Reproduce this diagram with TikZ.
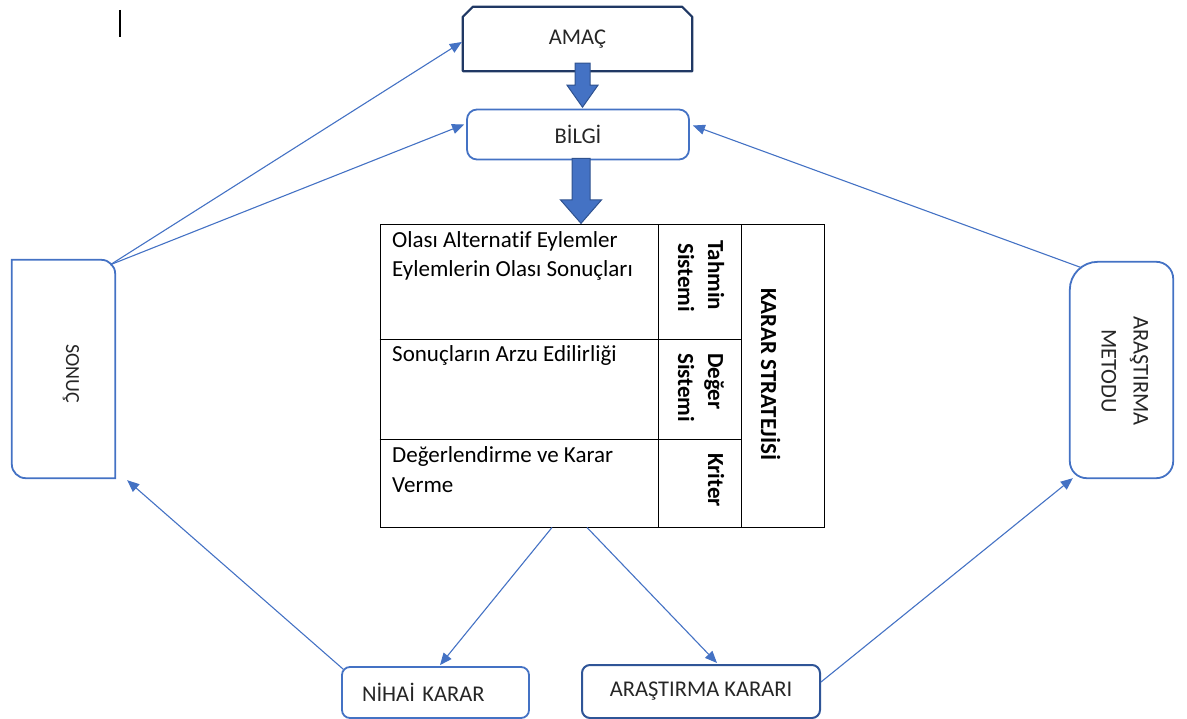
\documentclass[tikz,border=0pt]{standalone}
\usepackage{fontspec}
\setmainfont{Carlito}[Ligatures=NoCommon]
\usepackage{graphicx}
\usetikzlibrary{arrows.meta,calc}
\definecolor{officeblue}{HTML}{4472C4}
\definecolor{navyline}{HTML}{203864}
\definecolor{midblue}{HTML}{2F5597}
\definecolor{arrowedge}{HTML}{2F528F}
\definecolor{txt}{HTML}{262626}

\begin{document}
\begin{tikzpicture}[x=1pt,y=-1pt,
  link/.style={draw=officeblue, line width=1.1pt, -{Triangle[length=12pt,width=10pt]}},
  boxfont/.style={font=\fontsize{22.5}{27}\selectfont, text=txt},
  cellfont/.style={font=\fontsize{23}{28}\selectfont, inner sep=0pt, anchor=base west, text=black},
  sidefont/.style={font=\bfseries\fontsize{23}{28}\selectfont, inner sep=0pt, anchor=base west, rotate=-90, text=black},
  blockarr/.style={fill=officeblue, draw=arrowedge, line width=1pt, line join=miter},
  outline/.style={draw=officeblue, line width=1.8pt},
  tblline/.style={draw=black, line width=1pt}
]
\useasboundingbox (0,0) rectangle (1187,719);

% small text cursor mark
\draw[black, line width=1.5pt] (120,10) -- (120,37);

% goal box with cut top corners
\node[boxfont, minimum width=229pt, minimum height=64pt, inner sep=0pt] (amac) at (577.5,39) {AMAÇ};
\draw[navyline, line width=2.2pt, line join=round]
  ($(amac.north west)+(10,0)$) -- ($(amac.north east)+(-10,0)$) -- ($(amac.north east)+(0,10)$)
  -- (amac.south east) -- (amac.south west) -- ($(amac.north west)+(0,10)$) -- cycle;

% information box
\node[boxfont, outline, rounded corners=10pt, minimum width=222pt, minimum height=50pt, inner sep=0pt] (bilgi) at (578,134.5) {BİLGİ};

% block arrows
\coordinate (ba1) at ($(amac.south)+(5,-8)$);
\draw[blockarr] (ba1) ++(-7.5,0) -- ++(15,0) -- ++(0,22) -- ++(8,0) -- ++(-15.5,22) -- ++(-15.5,-22) -- ++(8,0) -- cycle;
\coordinate (ba2) at ($(bilgi.south)+(3,-2)$);
\draw[blockarr] (ba2) ++(-9,0) -- ++(18,0) -- ++(0,41.5) -- ++(11.5,0) -- ++(-20.5,23.5) -- ++(-20.5,-23.5) -- ++(11.5,0) -- cycle;

% decision strategy table
\node[tblline, minimum width=444pt, minimum height=302pt, inner sep=0pt] (tbl) at (602,376) {};
\draw[tblline] ($(tbl.north west)+(279,0)$) -- ($(tbl.south west)+(279,0)$);
\draw[tblline] ($(tbl.north west)+(362,0)$) -- ($(tbl.south west)+(362,0)$);
\draw[tblline] ($(tbl.north west)+(0,115)$) -- ($(tbl.north west)+(362,115)$);
\draw[tblline] ($(tbl.north west)+(0,215)$) -- ($(tbl.north west)+(362,215)$);

\node[cellfont] (t1) at (392,248) {Olası Alternatif Eylemler};
\node[cellfont] (t2) at (392,277) {Eylemlerin Olası Sonuçları};
\node[cellfont] (t3) at (392,362) {Sonuçların Arzu Edilirliği};
\node[cellfont] (t4) at (392,463) {Değerlendirme ve Karar};
\node[cellfont] (t5) at (392,492) {Verme};

\node[sidefont] (s1) at (708,240) {Tahmin};
\node[sidefont] (s2) at (678,243) {Sistemi};
\node[sidefont] (s3) at (708,353) {Değer};
\node[sidefont] (s4) at (678,353) {Sistemi};
\node[sidefont] (s5) at (708,453) {Kriter};
\node[sidefont] (s6) at (761,288) {KARAR STRATEJİSİ};

% result box (round diagonal corners)
\node[minimum width=103pt, minimum height=218pt, inner sep=0pt] (sonuc) at (63.5,369) {};
\draw[outline]
  (sonuc.north west) -- ($(sonuc.north east)+(-14,0)$)
  .. controls ($(sonuc.north east)+(-6.3,0)$) and ($(sonuc.north east)+(0,6.3)$) .. ($(sonuc.north east)+(0,14)$)
  -- (sonuc.south east) -- ($(sonuc.south west)+(14,0)$)
  .. controls ($(sonuc.south west)+(6.3,0)$) and ($(sonuc.south west)+(0,-6.3)$) .. ($(sonuc.south west)+(0,-14)$)
  -- cycle;
\node[boxfont, font=\fontsize{20}{24}\selectfont, inner sep=0pt] (sonuctxt) at (71,374) {\rotatebox{-90}{SONUÇ}};

% research method box
\node[minimum width=103pt, minimum height=216pt, inner sep=0pt] (metod) at (1121.5,370) {};
\draw[outline]
  ($(metod.north west)+(28,0)$) -- ($(metod.north east)+(-17,0)$)
  .. controls ($(metod.north east)+(-7.6,0)$) and ($(metod.north east)+(0,7.6)$) .. ($(metod.north east)+(0,17)$)
  -- ($(metod.south east)+(0,-17)$)
  .. controls ($(metod.south east)+(0,-7.6)$) and ($(metod.south east)+(-7.6,0)$) .. ($(metod.south east)+(-17,0)$)
  -- ($(metod.south west)+(17,0)$)
  .. controls ($(metod.south west)+(7.6,0)$) and ($(metod.south west)+(0,-7.6)$) .. ($(metod.south west)+(0,-17)$)
  -- ($(metod.north west)+(0,28)$)
  .. controls ($(metod.north west)+(0,12.6)$) and ($(metod.north west)+(12.6,0)$) .. ($(metod.north west)+(28,0)$)
  -- cycle;
\node[boxfont, font=\fontsize{22.5}{32}\selectfont, inner sep=0pt] (metodtxt) at (1124,371)
  {\rotatebox{-90}{\begin{tabular}{@{}c@{}}ARAŞTIRMA\\METODU\end{tabular}}};

% decision boxes
\node[boxfont, outline, rounded corners=8pt, minimum width=187pt, minimum height=51pt,
      text width=147pt, inner xsep=20pt, inner ysep=0pt, align=left] (nihai) at (435.5,692.5) {NİHAİ KARAR};
\node[boxfont, draw=midblue, line width=2pt, rounded corners=8pt, minimum width=238pt, minimum height=53pt,
      inner sep=0pt] (arask) at (701,691.5) {ARAŞTIRMA KARARI};

% connectors
\draw[link] ($(sonuc.north east)+(-5,5)$) -- ($(amac.west)+(-1,3)$);
\draw[link] ($(sonuc.north east)+(-5,5)$) -- ($(bilgi.west)+(-2,-10)$);
\draw[link] ($(metod.north west)+(12,6)$) -- ($(bilgi.east)+(3,-9)$);
\draw[link] ($(tbl.south)+(-50,0)$) -- ($(nihai.north)+(4.5,-1)$);
\draw[link] ($(tbl.south)+(-15,0)$) -- ($(arask.north)+(16,-1)$);
\draw[link] ($(nihai.north west)+(2,3)$) -- ($(sonuc.south east)+(12,2)$);
\draw[link] ($(arask.east)+(0,-9.5)$) -- ($(metod.south west)+(3,0)$);
\end{tikzpicture}
\end{document}
